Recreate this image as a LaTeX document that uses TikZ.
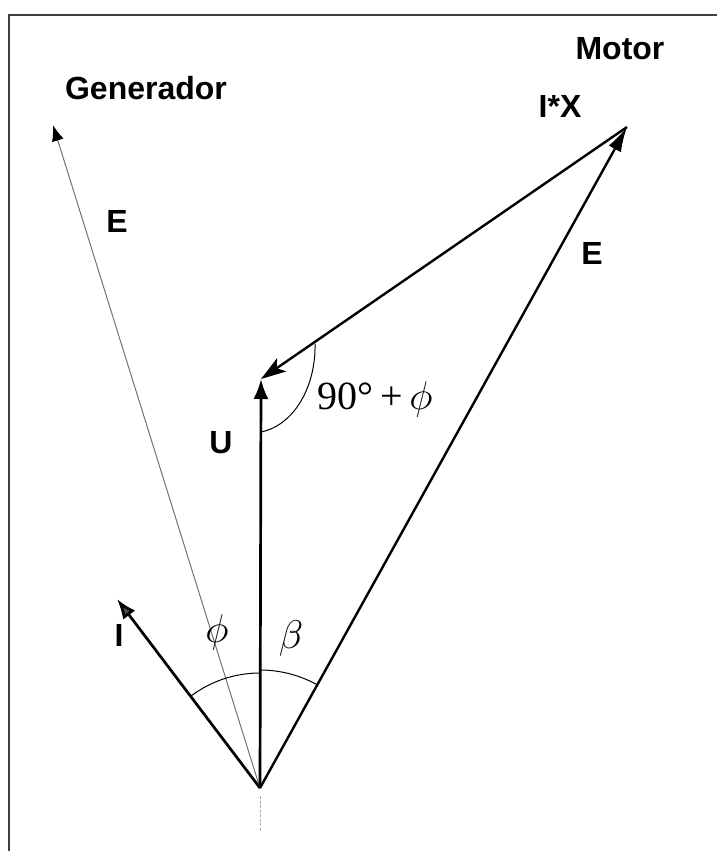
\RequirePackage{fix-cm}
\documentclass[tikz,border=0pt]{standalone}
\usepackage{fontspec}
\setmainfont{Liberation Serif}
\newfontfamily\lblfont{Liberation Sans}
\usetikzlibrary{arrows.meta}
\begin{document}
\begin{tikzpicture}[x=1pt,y=-1pt,
  lbl/.style={font=\lblfont\bfseries\fontsize{32}{38}\selectfont, inner sep=0pt, text=black},
  mth/.style={font=\fontsize{40}{46}\selectfont, inner sep=0pt},
  thickvec/.style={line width=2.7pt, black},
  thinvec/.style={line width=1pt, black!55},
  anglearc/.style={line width=1pt, black}
]
\useasboundingbox (0,0) rectangle (717,851);
\fill[white] (0,0) rectangle (717,851);
% frame
\draw[line width=2pt, black!75] (9,851) -- (9,15) -- (717,15);

% points
\coordinate (O) at (260,788);
\coordinate (Utip) at (261,379);
\coordinate (Mtip) at (627,127);
\coordinate (Gtip) at (53,125);
\coordinate (Itip) at (117,599);
\coordinate (D) at (260,832);
\coordinate (Dtop) at (260,796);

% dotted extension below origin
\draw[line width=0.8pt, black!35, dash pattern=on 3pt off 1.5pt] (Dtop) -- (D);

% generator E (thin)
\draw[thinvec, -{Latex[length=16pt,width=12pt,fill=black,color=black]}] (O) -- (Gtip);

% I
\draw[thickvec, -{Latex[length=20pt,width=15pt, fill=black!70]}] (O) -- (Itip);

% motor E
\draw[line width=2.4pt, -{Latex[length=25pt,width=14pt]}] (O) -- (Mtip);

% I*X
\draw[line width=2.4pt, -{Stealth[length=25pt,width=16pt,inset=6pt]}] (Mtip) -- (Utip);

% U
\draw[thickvec, -{Latex[length=20pt,width=15pt]}] (O) -- (Utip);

% angle arcs at origin
\draw[anglearc] ([shift={(127.1:115pt)}]O) arc[start angle=127.1, end angle=90, radius=115pt];
\draw[anglearc] ([shift={(90:118pt)}]O) arc[start angle=90, end angle=61, radius=118pt];

% 90+phi arc
\coordinate (Aa) at (315,344);
\coordinate (Ab) at (261,432);
\draw[anglearc] (Aa) .. controls (316,385) and (295,425) .. (Ab);

% labels
\node[lbl] (gen) at (146,88) {Generador};
\node[lbl] (mot) at (620,49) {Motor};
\node[lbl] (ix) at (560,106) {I*X};
\node[lbl] (eg) at (117,221) {E};
\node[lbl] (em) at (592,253) {E};
\node[lbl] (u) at (221,443) {U};
\node[lbl] (i) at (119,635) {I};
\node[mth] (phi) at (217,632) {$\phi$};
\node[mth] (beta) at (291,638) {$\beta$};
\node[mth] (ang) at (375,399) {90°\,+\,$\phi$};
\end{tikzpicture}
\end{document}
